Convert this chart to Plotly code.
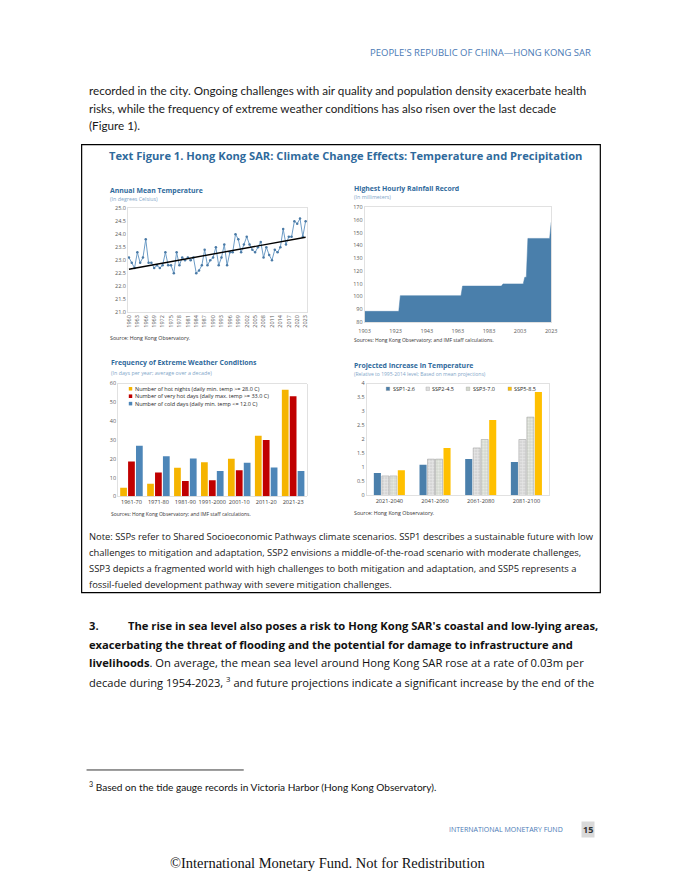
import plotly.graph_objects as go

W, H = 680, 880

# ---------------- data ----------------
years = list(range(1960, 2024))
mean_temp = [23.1, 22.9, 22.7, 23.3, 22.9, 23.1, 23.8, 22.9, 22.9, 22.7,
             22.8, 22.7, 22.8, 23.3, 22.8, 22.8, 22.5, 23.3, 22.8, 23.1,
             23.0, 23.1, 23.0, 23.1, 22.5, 22.6, 22.8, 23.4, 22.8, 23.0,
             23.1, 23.5, 22.8, 23.1, 23.6, 22.8, 23.3, 23.3, 24.0, 23.8,
             23.3, 23.6, 23.9, 23.6, 23.4, 23.3, 23.5, 23.7, 23.1, 23.5,
             23.2, 23.0, 23.4, 23.3, 23.5, 24.2, 23.6, 23.9, 23.9, 24.5,
             24.4, 24.6, 23.9, 24.5]
trend_years = [1960, 2023]
trend_vals = [22.65, 23.88]
temp_ticks = list(range(1960, 2024, 3))

rain_years = [1903, 1925, 1926, 1965, 1966, 1991, 1992, 2005, 2006, 2007, 2008, 2022, 2023]
rain_mm = [88.4, 88.4, 100.7, 100.7, 108.2, 108.2, 109.9, 109.9, 115.1, 115.1, 145.5, 145.5, 158.1]
rain_ticks = [1903, 1923, 1943, 1963, 1983, 2003, 2023]

decades = ['1961-70', '1971-80', '1981-90', '1991-2000', '2001-10', '2011-20', '2021-23']
hot_nights = [4.7, 6.8, 15.3, 18.2, 20.0, 32.3, 56.7]
very_hot_days = [18.6, 12.8, 8.2, 8.6, 14.0, 30.0, 53.3]
cold_days = [27.0, 21.4, 20.2, 13.5, 17.9, 15.4, 13.5]
weather_names = ['Number of hot nights (daily min. temp >= 28.0 C)',
                 'Number of very hot days (daily max. temp >= 33.0 C)',
                 'Number of cold days (daily min. temp <= 12.0 C)']

periods = ['2021-2040', '2041-2060', '2061-2080', '2081-2100']
ssp126 = [0.8, 1.1, 1.3, 1.2]
ssp245 = [0.7, 1.3, 1.7, 2.0]
ssp370 = [0.7, 1.3, 2.0, 2.8]
ssp585 = [0.9, 1.7, 2.7, 3.7]
ssp_names = ['SSP1-2.6', 'SSP2-4.5', 'SSP3-7.0', 'SSP5-8.5']

# ---------------- helpers ----------------
def X(p): return p / W
def Y(p): return 1 - p / H

BLUE = '#4a7fab'
GOLD = '#f5b400'
RED = '#c00000'
TITLE_C = '#2f6a9c'
SUB_C = '#7fa6c9'
BODY_FONT = 'Lato'
UI_FONT = 'Open Sans'

fig = go.Figure()
ann = []
shapes = []

def text(x, y, s, size, color='#1a1a1a', family=BODY_FONT, anchor='left', bg=None):
    d = dict(x=X(x), y=Y(y), xref='paper', yref='paper', text=s, showarrow=False,
             xanchor=anchor, yanchor='middle', font=dict(size=size, color=color, family=family))
    if bg:
        d['bgcolor'] = bg
    ann.append(d)

# ---------------- chart 1 ----------------
fig.add_trace(go.Scatter(x=years, y=mean_temp, mode='lines+markers', xaxis='x', yaxis='y',
                         line=dict(color='#6d9cc6', width=1),
                         marker=dict(size=2.5, color='#4a7aa6'), showlegend=False))
fig.add_trace(go.Scatter(x=trend_years, y=trend_vals, mode='lines', xaxis='x', yaxis='y',
                         line=dict(color='black', width=1.4), showlegend=False))

# ---------------- chart 2 ----------------
fig.add_trace(go.Scatter(x=rain_years, y=rain_mm, mode='lines', xaxis='x2', yaxis='y2',
                         fill='tozeroy', fillcolor=BLUE, line=dict(color=BLUE, width=0.5),
                         showlegend=False))

# ---------------- chart 3 ----------------
w3 = 0.25
slot3 = 0.88 / 3
for i, (vals, col) in enumerate(zip([hot_nights, very_hot_days, cold_days], [GOLD, RED, '#4d86b8'])):
    fig.add_trace(go.Bar(x=decades, y=vals, xaxis='x3', yaxis='y3', width=w3,
                         offset=-0.44 + i * slot3 + (slot3 - w3) / 2,
                         marker=dict(color=col, line=dict(width=0)), showlegend=False))

# ---------------- chart 4 ----------------
w4 = 0.155
slot4 = 0.70 / 4
styles4 = [dict(color=BLUE, line=dict(width=0)),
           dict(color='#dcdcdc', line=dict(color='#9a9a9a', width=0.5),
                pattern=dict(shape='.', fgcolor='#9a9a9a', bgcolor='#e4e4e4', size=3, solidity=0.25)),
           dict(color='#d6dbd0', line=dict(color='#9a9a9a', width=0.5),
                pattern=dict(shape='+', fgcolor='#a0a69a', bgcolor='#e6e9e2', size=3, solidity=0.3)),
           dict(color='#ffc000', line=dict(width=0))]
for i, (vals, st) in enumerate(zip([ssp126, ssp245, ssp370, ssp585], styles4)):
    fig.add_trace(go.Bar(x=periods, y=vals, xaxis='x4', yaxis='y4', width=w4,
                         offset=-0.35 + i * slot4 + (slot4 - w4) / 2,
                         marker=st, showlegend=False))

tickf = dict(size=5.5, color='#595959', family=UI_FONT)
catf = dict(size=5.6, color='#404040', family=UI_FONT)
frame = dict(showline=True, linecolor='#d9d9d9', linewidth=0.8, mirror=True,
             showgrid=False, zeroline=False, ticks='')

layout_axes = dict(
    xaxis=dict(domain=[X(124), X(307)], range=[1959.6, 2023.7], tickvals=temp_ticks,
               tickangle=-90, tickfont=tickf, anchor='y', **frame),
    yaxis=dict(domain=[Y(311), Y(206)], range=[21, 25], dtick=0.5, tickformat='.1f',
               tickfont=tickf, anchor='x', **frame),
    xaxis2=dict(domain=[X(365), X(555)], range=[1903, 2023], tickvals=rain_ticks,
                tickfont=tickf, anchor='y2', ticklabelstandoff=4, **frame),
    yaxis2=dict(domain=[Y(321), Y(205)], range=[80, 170], dtick=10,
                tickfont=tickf, anchor='x2', **frame),
    xaxis3=dict(domain=[X(114), X(306)], type='category', tickfont=catf, tickangle=0,
                anchor='y3', **frame),
    yaxis3=dict(domain=[Y(497), Y(383)], range=[0, 60], dtick=10,
                tickfont=tickf, anchor='x3', **frame),
    xaxis4=dict(domain=[X(367), X(553)], type='category', tickfont=catf, tickangle=0,
                anchor='y4', **frame),
    yaxis4=dict(domain=[Y(496), Y(383)], range=[0, 4], dtick=0.5,
                tickfont=tickf, anchor='x4', **frame),
)

# ---------------- page text ----------------
text(598, 49, "PEOPLE'S REPUBLIC OF CHINA\u2014HONG KONG SAR", 9.5, '#4a7ab5', UI_FONT, 'right')
text(82, 87, "recorded in the city. Ongoing challenges with air quality and population density exacerbate health", 11.7)
text(82, 104.5, "risks, while the frequency of extreme weather conditions has also risen over the last decade", 11.7)
text(82, 122, "(Figure 1).", 11.7)

shapes.append(dict(type='rect', xref='paper', yref='paper', x0=X(77), x1=X(605), y0=Y(142), y1=Y(594),
                   line=dict(color='black', width=1.2), fillcolor='rgba(0,0,0,0)'))
text(103, 153, "<b>Text Figure 1. Hong Kong SAR: Climate Change Effects: Temperature and Precipitation</b>",
     11.15, TITLE_C, UI_FONT)

# chart titles
text(104, 188, "<b>Annual Mean Temperature</b>", 6.9, TITLE_C, UI_FONT)
text(104, 197, "(In degrees Celsius)", 5.3, SUB_C, UI_FONT)
text(104, 337, "Source: Hong Kong Observatory.", 5.3, '#333333', UI_FONT)

text(352, 186, "<b>Highest Hourly Rainfall Record</b>", 6.9, TITLE_C, UI_FONT)
text(352, 195, "(In millimeters)", 5.3, SUB_C, UI_FONT)
text(352, 339, "Sources: Hong Kong Observatory; and IMF staff calculations.", 5.0, '#333333', UI_FONT)

text(105, 362, "<b>Frequency of Extreme Weather Conditions</b>", 6.9, TITLE_C, UI_FONT)
text(105, 372, "(In days per year; average over a decade)", 5.3, SUB_C, UI_FONT)
text(105, 515, "Sources: Hong Kong Observatory; and IMF staff calculations.", 5.0, '#333333', UI_FONT)

text(352, 365, "<b>Projected Increase in Temperature</b>", 6.9, TITLE_C, UI_FONT)
text(352, 373, "(Relative to 1995-2014 level; Based on mean projections)", 5.0, SUB_C, UI_FONT)
text(352, 514, "Source: Hong Kong Observatory.", 5.3, '#333333', UI_FONT)

# legend chart 3
for i, (nm, col) in enumerate(zip(weather_names, [GOLD, RED, '#4d86b8'])):
    yy = 388.3 + i * 7.5
    shapes.append(dict(type='rect', xref='paper', yref='paper', x0=X(125), x1=X(128.5),
                       y0=Y(yy + 1.8), y1=Y(yy - 1.8), fillcolor=col, line=dict(width=0)))
    text(129.5, yy, nm, 5.5, '#262626', UI_FONT)

# legend chart 4
leg4_x = [387, 427.5, 468.5, 511]
leg4_fill = [BLUE, '#dedede', '#d3d8cc', '#ffc000']
for nm, lx, col in zip(ssp_names, leg4_x, leg4_fill):
    shapes.append(dict(type='rect', xref='paper', yref='paper', x0=X(lx), x1=X(lx + 3.6),
                       y0=Y(390.1), y1=Y(386.5), fillcolor=col, line=dict(width=0.3, color='#8a8a8a')))
    text(lx + 4.5, 388.3, nm, 5.5, '#262626', UI_FONT)

# note
note = ["Note: SSPs refer to Shared Socioeconomic Pathways climate scenarios. SSP1 describes a sustainable future with low",
        "challenges to mitigation and adaptation, SSP2 envisions a middle-of-the-road scenario with moderate challenges,",
        "SSP3 depicts a fragmented world with high challenges to both mitigation and adaptation, and SSP5 represents a",
        "fossil-fueled development pathway with severe mitigation challenges."]
for i, ln in enumerate(note):
    text(82, 537 + i * 16.2, ln, 9.4, '#1a1a1a', UI_FONT)

# paragraph 3
text(82, 627, "<b>3.</b>", 11.2, '#111111', UI_FONT)
text(122, 627, "<b>The rise in sea level also poses a risk to Hong Kong SAR's coastal and low-lying areas,</b>", 11.2, '#111111', UI_FONT)
text(82, 646, "<b>exacerbating the threat of flooding and the potential for damage to infrastructure and</b>", 11.2, '#111111', UI_FONT)
text(82, 665, "<b>livelihoods</b>. On average, the mean sea level around Hong Kong SAR rose at a rate of 0.03m per", 11.2, '#111111', UI_FONT)
text(82, 684, "decade during 1954-2023, <sup>3</sup> and future projections indicate a significant increase by the end of the", 11.1, '#111111', UI_FONT)

# footnote
shapes.append(dict(type='line', xref='paper', yref='paper', x0=X(82), x1=X(242), y0=Y(773), y1=Y(773),
                   line=dict(color='black', width=0.8)))
text(82, 790, "<sup>3</sup> Based on the tide gauge records in Victoria Harbor (Hong Kong Observatory).", 10.1, '#111111', BODY_FONT)

# footer
text(569, 833, "INTERNATIONAL MONETARY FUND", 7.0, '#4a7ab5', UI_FONT, 'right')
text(592, 833, "<b>15</b>", 9, '#333333', UI_FONT, 'center', bg='#d9d9d9')
text(327, 867, "\u00a9International Monetary Fund. Not for Redistribution", 14.5, '#111111', 'Liberation Serif', 'center')

fig.update_layout(width=W, height=H, margin=dict(l=0, r=0, t=0, b=0),
                  paper_bgcolor='white', plot_bgcolor='white', barmode='overlay',
                  annotations=ann, shapes=shapes, showlegend=False, hovermode=False,
                  **layout_axes)

fig.write_html("out.html", config={'displayModeBar': False, 'staticPlot': True},
               post_script="document.body.style.margin='0';")
